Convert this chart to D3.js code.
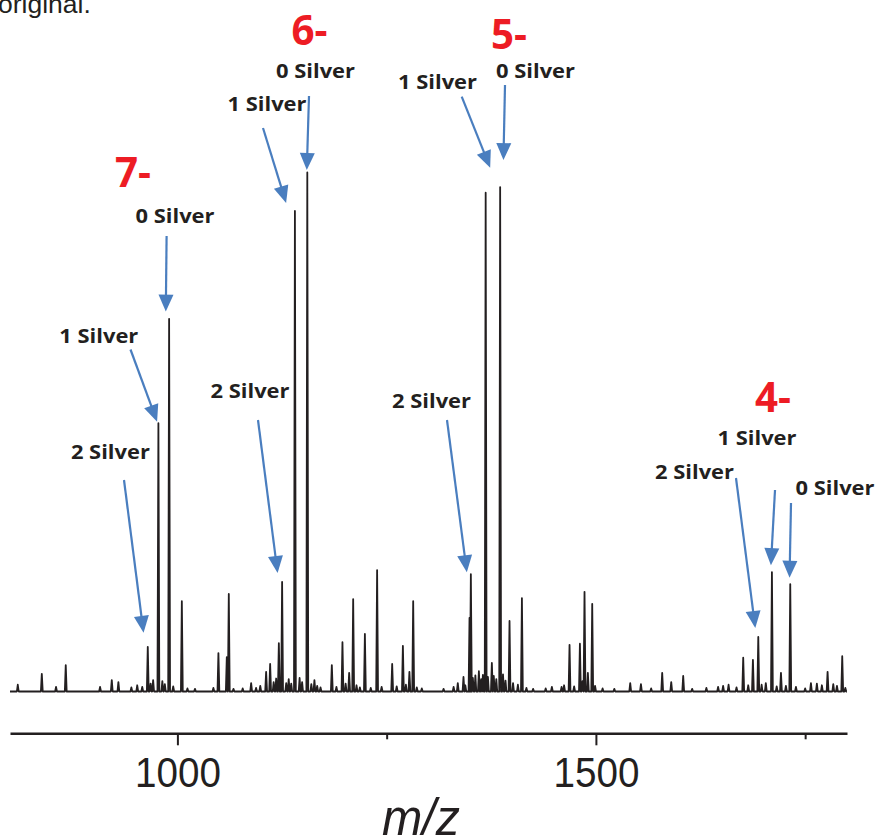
<!DOCTYPE html>
<html><head><meta charset="utf-8">
<script src="https://cdn.jsdelivr.net/npm/d3@7"></script>
<style>html,body{margin:0;padding:0;background:#fff;} svg{display:block;}</style>
</head><body>
<svg id="chart" width="877" height="839"></svg>
<script>
// ---- data ----
const peakMz = [809.3, 838.0, 855.0, 866.6, 907.6, 921.6, 929.5, 964.6, 977.3, 990.1,
  1005.3, 1049.0, 1059.0, 1061.4, 1088.1, 1106.0, 1110.8, 1121.2, 1125.1, 1140.4,
  1155.2, 1163.7, 1184.5, 1197.2, 1205.2, 1210.0, 1224.0, 1238.6, 1256.6, 1269.4,
  1277.2, 1281.7, 1341.8, 1349.0, 1350.6, 1360.2, 1368.3, 1375.7, 1385.6, 1396.8,
  1406.8, 1411.6, 1447.4, 1468.5, 1480.9, 1486.4, 1490.4, 1495.6, 1541.0, 1553.8,
  1579.2, 1590.0, 1604.3, 1658.5, 1676.0, 1687.6, 1694.0, 1710.3, 1721.1, 1732.2,
  1756.9, 1776.8, 1783.6, 1794.3];
const peakIntensity = [1.3, 3.4, 0.9, 5.1, 0.9, 2.2, 1.8, 8.6, 51.7, 71.8,
  17.4, 7.4, 6.6, 18.8, 1.6, 3.8, 5.3, 9.3, 21.1, 92.6,
  100, 2.2, 5.1, 9.5, 3.6, 17.8, 11.1, 23.4, 5.3, 8.8,
  3.8, 17.4, 2.8, 14.2, 22.6, 3.9, 96.1, 5.5, 97.2, 13.6,
  1.3, 18.0, 0.9, 9.0, 9.2, 19.2, 3.6, 16.9, 1.6, 1.4,
  3.6, 1.8, 3.0, 1.3, 6.5, 6.1, 10.5, 23.0, 3.6, 20.7,
  1.6, 3.8, 1.4, 6.8];
// small baseline bumps (noise)
const noiseMz = [945, 952, 958, 968, 971, 982, 985, 995, 1012, 1021, 1043, 1067, 1078, 1094, 1099,
  1115, 1118, 1130, 1133, 1136, 1146, 1149, 1160, 1167, 1171, 1190, 1201, 1214, 1218, 1231,
  1244, 1262, 1273, 1286, 1292, 1318, 1330, 1335, 1344, 1353, 1356, 1363, 1365, 1371, 1378,
  1381, 1389, 1392, 1401, 1417, 1425, 1440, 1459, 1462, 1474, 1484, 1499, 1508, 1522, 1566,
  1615, 1632, 1646, 1652, 1668, 1682, 1698, 1703, 1716, 1727, 1739, 1750, 1764, 1770, 1788, 1798];
const noiseIntensity = [0.8, 1.2, 0.9, 1.5, 2.2, 2.0, 1.4, 1.0, 0.6, 0.5, 0.7, 0.5, 0.6, 0.7, 1.1,
  1.8, 2.5, 1.6, 2.4, 1.5, 2.6, 1.8, 1.4, 1.1, 0.8, 0.9, 1.5, 1.2, 0.8, 0.7,
  0.9, 1.0, 1.3, 0.8, 0.6, 0.5, 0.9, 1.6, 1.2, 2.6, 3.1, 2.4, 3.2, 2.8, 3.0,
  2.4, 3.3, 2.1, 1.6, 0.7, 0.5, 0.6, 0.9, 1.2, 1.0, 2.0, 1.1, 0.6, 0.5, 0.6,
  0.5, 0.7, 0.9, 1.1, 0.8, 1.2, 1.3, 1.6, 1.0, 1.1, 0.9, 0.6, 1.5, 1.2, 1.1, 0.7];
const majorTicks = [1000, 1500];
const minorTicks = [1250, 1750];
const xDomain = [800, 1800];
const chargeStates = ["7-", "6-", "5-", "4-"];
const silverLabels = ["0 Silver", "1 Silver", "2 Silver"];
// annotated peak m/z per charge state, index = number of silver
const annotatedMz = {
  "7-": [990.1, 977.3, 964.6],
  "6-": [1155.2, 1140.4, 1125.1],
  "5-": [1385.6, 1368.3, 1350.6],
  "4-": [1732.2, 1710.3, 1694.0]
};
const axisTitle = "m/z";
const cornerText = "original.";

// ---- layout ----
const W = 877, H = 839;
const plot = {left: 10, right: 847, baseline: 691.5, top: 172.5, axisY: 733.3};
const chargePos = {"7-": [133, 186.7], "6-": [309.5, 45], "5-": [509, 48.5], "4-": [773, 411.7]};
const annLayout = {
  "7-": [{label: [175, 222.5], tail: [166.6, 236], tip: [-3.3, -7.3]},
         {label: [98.8, 342.7], tail: [130.5, 349.5], tip: [-1.3, -1.5]},
         {label: [110.4, 459], tail: [124, 480], tip: [-4.2, -14]}],
  "6-": [{label: [315.5, 77.5], tail: [309, 96], tip: [-0.5, -2.5]},
         {label: [267, 111], tail: [263, 128], tip: [-8.8, -8]},
         {label: [250, 398.3], tail: [258, 420], tip: [-4.5, -9]}],
  "5-": [{label: [535.5, 78.3], tail: [505, 85], tip: [3.3, -27]},
         {label: [437.5, 89.3], tail: [461.7, 96.7], tip: [4.5, -25]},
         {label: [431.5, 407.5], tail: [447, 420], tip: [-4, -2]}],
  "4-": [{label: [835, 495], tail: [791, 503], tip: [-0.7, -6.3]},
         {label: [757, 445], tail: [775, 490], tip: [-1, -7]},
         {label: [694.5, 479], tail: [736, 478], tip: [-3, -9]}]
};
const colors = {trace: "#231f20", text: "#231f20", red: "#ED1C24", blue: "#4A7EBF"};

const svg = d3.select("#chart");
svg.append("rect").attr("width", W).attr("height", H).attr("fill", "#fff");

const x = d3.scaleLinear().domain(xDomain).range([plot.left, plot.right]);
const y = d3.scaleLinear().domain([0, 100]).range([plot.baseline, plot.top]);

// corner text (cropped caption)
svg.append("text").attr("x", -2).attr("y", 13.3)
  .attr("font-family", "'Liberation Sans', Arial, sans-serif").attr("font-size", 26.5)
  .attr("fill", colors.text).text(cornerText);

// spectrum trace
const pts = [];
peakMz.forEach((m, i) => pts.push({mz: m, v: peakIntensity[i]}));
noiseMz.forEach((m, i) => pts.push({mz: m, v: noiseIntensity[i]}));
pts.sort((a, b) => a.mz - b.mz);
const hw = 1.1;
const trace = [[xDomain[0], 0]];
pts.forEach(p => { trace.push([p.mz - hw, 0]); trace.push([p.mz, p.v]); trace.push([p.mz + hw, 0]); });
trace.push([xDomain[1], 0]);
const line = d3.line().x(d => x(d[0])).y(d => y(d[1]));
svg.append("path").datum(trace).attr("d", line)
  .attr("fill", "none").attr("stroke", colors.trace).attr("stroke-width", 1.8)
  .attr("stroke-linejoin", "round");

// x axis
const axG = svg.append("g").attr("transform", `translate(0,${plot.axisY})`);
axG.call(d3.axisBottom(x).tickValues(majorTicks).tickSizeInner(12).tickSizeOuter(0).tickFormat(d3.format("d")));
const axMinor = svg.append("g").attr("transform", `translate(0,${plot.axisY})`);
axMinor.call(d3.axisBottom(x).tickValues(minorTicks).tickSizeInner(6).tickSizeOuter(0).tickFormat(""));
axMinor.select(".domain").remove();
svg.selectAll(".domain").attr("stroke", colors.trace).attr("stroke-width", 2.6);
svg.selectAll(".tick line").attr("stroke", colors.trace).attr("stroke-width", 2);
axG.selectAll(".tick text")
  .attr("y", 54.2).attr("dy", null)
  .attr("font-family", "'Liberation Sans', Arial, sans-serif").attr("font-size", 42)
  .attr("fill", colors.text)
  .attr("textLength", 86).attr("lengthAdjust", "spacingAndGlyphs");

svg.append("text").attr("x", 421).attr("y", 835).attr("text-anchor", "middle")
  .attr("font-family", "'Liberation Sans', Arial, sans-serif").attr("font-size", 52)
  .attr("font-style", "italic").attr("fill", colors.text)
  .attr("textLength", 78).attr("lengthAdjust", "spacingAndGlyphs").text(axisTitle);

// annotations
const ann = svg.append("g");
function arrow(tail, tip) {
  const dx = tip[0] - tail[0], dy = tip[1] - tail[1];
  const len = Math.hypot(dx, dy), ux = dx / len, uy = dy / len;
  const hl = 17, hwid = 7.5;
  const bx = tip[0] - ux * hl, by = tip[1] - uy * hl;
  ann.append("line").attr("x1", tail[0]).attr("y1", tail[1]).attr("x2", bx + ux * 1).attr("y2", by + uy * 1)
    .attr("stroke", colors.blue).attr("stroke-width", 2.2);
  ann.append("path").attr("d", `M${tip[0]},${tip[1]}L${bx - uy * hwid},${by + ux * hwid}L${bx + uy * hwid},${by - ux * hwid}Z`)
    .attr("fill", colors.blue);
}
chargeStates.forEach(cs => {
  ann.append("text").attr("x", chargePos[cs][0]).attr("y", chargePos[cs][1])
    .attr("text-anchor", "middle").attr("font-family", "'Open Sans', sans-serif")
    .attr("font-weight", 700).attr("font-size", 41).attr("fill", colors.red)
    .attr("textLength", 36).attr("lengthAdjust", "spacingAndGlyphs").text(cs);
  annotatedMz[cs].forEach((m, k) => {
    const L = annLayout[cs][k];
    const idx = peakMz.indexOf(m);
    const px = x(m), py = y(peakIntensity[idx]);
    arrow(L.tail, [px + L.tip[0], py + L.tip[1]]);
    ann.append("text").attr("x", L.label[0]).attr("y", L.label[1])
      .attr("text-anchor", "middle").attr("font-family", "'Open Sans', sans-serif")
      .attr("font-weight", 700).attr("font-size", 19.5).attr("fill", colors.text)
      .attr("textLength", 79).attr("lengthAdjust", "spacingAndGlyphs").text(silverLabels[k]);
  });
});
</script>
</body></html>
